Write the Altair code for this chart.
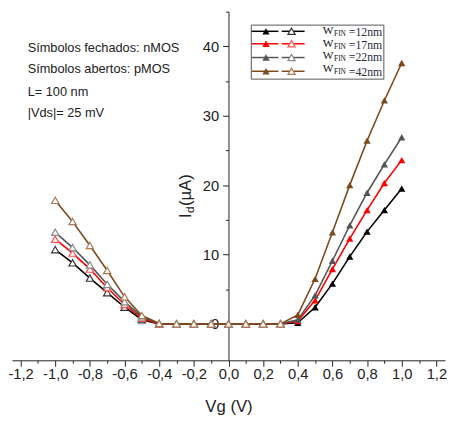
import altair as alt
import pandas as pd

# ---------------- data ----------------
vg = [-1.0, -0.9, -0.8, -0.7, -0.6, -0.5, -0.4, -0.3, -0.2, -0.1, 0.0,
      0.1, 0.2, 0.3, 0.4, 0.5, 0.6, 0.7, 0.8, 0.9, 1.0]
widths = ["12nm", "17nm", "22nm", "42nm"]
id_12nm = [10.7, 8.8, 6.6, 4.5, 2.4, 0.6, 0.0, 0.0, 0.0, 0.0, 0.0,
           0.0, 0.0, 0.0, 0.15, 2.4, 5.8, 9.7, 13.3, 16.4, 19.5]
id_17nm = [12.2, 10.2, 7.9, 5.2, 2.8, 0.8, 0.0, 0.0, 0.0, 0.0, 0.0,
           0.0, 0.0, 0.0, 0.4, 3.4, 7.9, 12.3, 16.4, 20.3, 23.6]
id_22nm = [13.2, 11.0, 8.5, 5.7, 3.2, 1.0, 0.05, 0.0, 0.0, 0.0, 0.0,
           0.0, 0.0, 0.0, 0.6, 4.1, 9.1, 14.2, 18.9, 23.0, 26.9]
id_42nm = [17.8, 14.75, 11.3, 7.7, 3.9, 1.2, 0.05, 0.0, 0.0, 0.0, 0.0,
           0.0, 0.0, 0.0, 1.3, 6.5, 13.2, 20.0, 26.4, 32.2, 37.6]
series_values = [id_12nm, id_17nm, id_22nm, id_42nm]

x_ticks = [-1.2, -1.0, -0.8, -0.6, -0.4, -0.2, 0.0, 0.2, 0.4, 0.6, 0.8, 1.0, 1.2]
x_minor = [-1.1, -0.9, -0.7, -0.5, -0.3, -0.1, 0.1, 0.3, 0.5, 0.7, 0.9, 1.1]
y_ticks = [0, 10, 20, 30, 40]
y_minor = [5, 15, 25, 35, 45]

annotation_lines = ["Símbolos fechados: nMOS", "Símbolos abertos: pMOS",
                    "L= 100 nm", "|Vds|= 25 mV"]
legend_values = ["=12nm", "=17nm", "=22nm", "=42nm"]

line_colors = ["#000000", "#ff0000", "#555555", "#7b4a1e"]
open_colors = ["#333333", "#ff5050", "#8a8a8a", "#a87a55"]

rows = []
for w, vals in zip(widths, series_values):
    for x, v in zip(vg, vals):
        rows.append({"W": w, "Vg": x, "Id": v, "kind": "p" if x < 0.35 else "n"})
df = pd.DataFrame(rows)

# ---------------- layout constants ----------------
W, H = 441, 355
Y_OFFSET = -220.5
FONT = "Liberation Sans"
SERIF = "Liberation Serif"
AX = "#222222"

xs = alt.Scale(domain=[-1.25, 1.25], nice=False, zero=False)
ys = alt.Scale(domain=[-5.25, 45], nice=False, zero=False)
col_scale = alt.Scale(domain=widths, range=line_colors)
open_scale = alt.Scale(domain=widths, range=open_colors)

base = alt.Chart(df)

minor = base.mark_line(opacity=0).encode(
    x=alt.X("Vg:Q", scale=xs, axis=alt.Axis(orient="bottom", values=x_minor, labels=False,
                                            domain=False, tickSize=3, tickColor=AX,
                                            title=None, grid=False)),
    y=alt.Y("Id:Q", scale=ys, axis=alt.Axis(orient="left", offset=Y_OFFSET, values=y_minor,
                                            labels=False, domain=False, tickSize=3,
                                            tickColor=AX, title=None, grid=False)),
    detail="W:N",
)

lines = base.mark_line(strokeWidth=1.6).encode(
    x=alt.X("Vg:Q", scale=xs, axis=alt.Axis(
        orient="bottom", values=x_ticks,
        labelExpr="replace(replace(format(datum.value, '.1f'), '.', ','), '\u2212', '-')",
        tickSize=6, tickColor=AX, domainColor=AX, labelFont=FONT, labelFontSize=15,
        labelColor=AX, labelPadding=1, title="Vg (V)", titleFont=FONT, titleFontSize=17,
        titleFontWeight="normal", titleColor=AX, titlePadding=17, grid=False,
        labelFlush=False, labelOverlap=False)),
    y=alt.Y("Id:Q", scale=ys, axis=alt.Axis(
        orient="left", offset=Y_OFFSET, values=y_ticks, tickSize=6, tickColor=AX,
        domainColor=AX, labelFont=FONT, labelFontSize=15, labelColor=AX, labelPadding=4,
        title=None, grid=False)),
    color=alt.Color("W:N", scale=col_scale, legend=None),
)

open_pts = base.transform_filter("datum.kind == 'p'").mark_point(
    shape="triangle-up", filled=True, fill="white", fillOpacity=1, size=55,
    strokeWidth=1.2, opacity=1).encode(
    x=alt.X("Vg:Q", scale=xs, axis=None),
    y=alt.Y("Id:Q", scale=ys, axis=None),
    stroke=alt.Stroke("W:N", scale=open_scale, legend=None),
)

filled_pts = base.transform_filter("datum.kind == 'n'").mark_point(
    shape="triangle-up", filled=True, size=55, opacity=1).encode(
    x=alt.X("Vg:Q", scale=xs, axis=None),
    y=alt.Y("Id:Q", scale=ys, axis=None),
    color=alt.Color("W:N", scale=col_scale, legend=None),
)

layers = [minor, lines, open_pts, filled_pts]

one = alt.Chart(pd.DataFrame({"a": [0]}))

# annotation text (top-left)
ann_y = [37, 58.7, 82, 103]
for txt, yy in zip(annotation_lines, ann_y):
    layers.append(one.mark_text(align="left", baseline="middle", font=FONT, fontSize=13,
                                color=AX).encode(x=alt.value(16), y=alt.value(yy),
                                                 text=alt.value(txt)))

# y-axis title  I_d(µA)
layers.append(one.mark_text(angle=270, align="left", baseline="alphabetic", font=FONT,
                            fontSize=17, color=AX).encode(
    x=alt.value(182), y=alt.value(210), text=alt.value("I")))
layers.append(one.mark_text(angle=270, align="left", baseline="alphabetic", font=FONT,
                            fontSize=12, color=AX).encode(
    x=alt.value(185.5), y=alt.value(205), text=alt.value("d")))
layers.append(one.mark_text(angle=270, align="left", baseline="alphabetic", font=FONT,
                            fontSize=17, color=AX).encode(
    x=alt.value(182), y=alt.value(198), text=alt.value("(µA)")))

# legend box
layers.append(one.mark_rect(fill="white", stroke="#555555", strokeWidth=1).encode(
    x=alt.value(243.7), x2=alt.value(378.7), y=alt.value(13.7), y2=alt.value(68.7)))

row_y = [20, 32.7, 46.7, 60.7]
w_base = [23, 36, 48.5, 61]
v_base = [25, 38, 50, 66]
for i in range(4):
    c = line_colors[i]
    oc = open_colors[i]
    yy = row_y[i]
    layers.append(one.mark_rule(color=c, strokeWidth=1.5).encode(
        x=alt.value(244), x2=alt.value(271.3), y=alt.value(yy)))
    layers.append(one.mark_rule(color=c, strokeWidth=1.5).encode(
        x=alt.value(274.7), x2=alt.value(298), y=alt.value(yy)))
    layers.append(one.mark_point(shape="triangle-up", filled=True, size=55, color=c,
                                 opacity=1).encode(x=alt.value(258.7), y=alt.value(yy)))
    layers.append(one.mark_point(shape="triangle-up", filled=True, fill="white",
                                 stroke=oc, strokeWidth=1.2, size=55, opacity=1).encode(
        x=alt.value(284.7), y=alt.value(yy)))
    layers.append(one.mark_text(align="left", baseline="alphabetic", font=SERIF,
                                fontSize=11.5, color="#111111").encode(
        x=alt.value(316.5), y=alt.value(w_base[i]), text=alt.value("W")))
    layers.append(one.mark_text(align="left", baseline="alphabetic", font=SERIF,
                                fontSize=7.5, color="#111111").encode(
        x=alt.value(328), y=alt.value(w_base[i] + 2), text=alt.value("FIN")))
    layers.append(one.mark_text(align="left", baseline="alphabetic", font=SERIF,
                                fontSize=12, color="#2a2a3a").encode(
        x=alt.value(343), y=alt.value(v_base[i]), text=alt.value(legend_values[i])))

chart = alt.layer(*layers).resolve_axis(x="independent", y="independent").properties(
    width=W, height=H,
    autosize=alt.AutoSizeParams(type="none"),
    padding={"left": 4, "top": 0, "right": 2, "bottom": 54},
).configure_view(stroke=None).configure_axis(grid=False)

chart.save("out.html", embed_options={"renderer": "svg", "actions": False})
